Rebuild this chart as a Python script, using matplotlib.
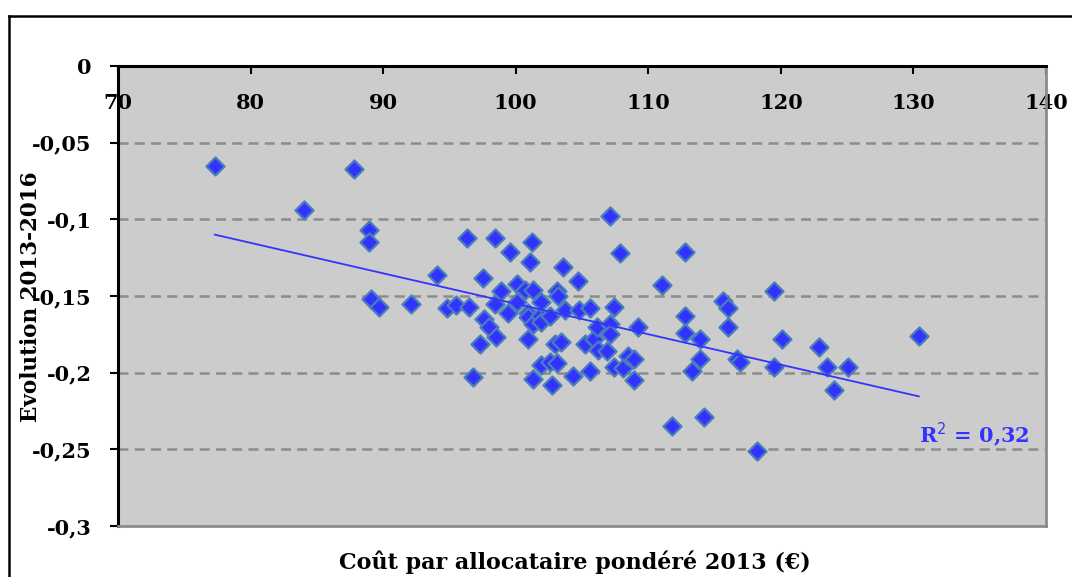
import numpy as np
import matplotlib
matplotlib.use('Agg')
import matplotlib.pyplot as plt
from matplotlib.lines import Line2D

# cost per beneficiary 2013 (EUR) and evolution 2013-2016
cost_2013 = [
    77.3, 84.0, 87.8, 88.9, 88.9, 89.1, 89.7, 92.1, 94.1, 94.8,
    95.5, 96.3, 96.5, 96.8, 97.3, 97.5, 97.6, 98.0, 98.4, 98.4,
    98.5, 98.9, 99.4, 99.6, 100.1, 100.1, 100.7, 100.9, 100.9, 100.9,
    101.1, 101.2, 101.3, 101.3, 101.3, 101.8, 101.9, 101.9, 101.9, 102.6,
    102.6, 102.7, 103.1, 103.1, 103.0, 103.2, 103.4, 103.6, 103.7, 104.3,
    104.7, 104.8, 105.2, 105.6, 105.6, 105.9, 106.1, 106.2, 106.9, 107.1,
    107.1, 107.1, 107.4, 107.4, 107.9, 108.1, 108.5, 108.9, 108.9, 109.2,
    111.0, 111.8, 112.8, 112.8, 112.8, 113.3, 113.9, 113.9, 114.2, 115.6,
    116.0, 116.0, 116.7, 116.9, 118.2, 119.5, 119.5, 120.1, 122.9, 123.5,
    124.0, 125.1, 130.4,
]
evolution = [
    -0.065, -0.094, -0.067, -0.107, -0.115, -0.152, -0.157, -0.155, -0.136, -0.158,
    -0.156, -0.112, -0.157, -0.203, -0.181, -0.138, -0.165, -0.170, -0.112, -0.155,
    -0.177, -0.147, -0.161, -0.121, -0.142, -0.154, -0.146, -0.161, -0.164, -0.178,
    -0.128, -0.115, -0.146, -0.168, -0.204, -0.163, -0.154, -0.167, -0.195, -0.163,
    -0.193, -0.208, -0.147, -0.194, -0.181, -0.150, -0.180, -0.131, -0.159, -0.202,
    -0.140, -0.159, -0.181, -0.158, -0.199, -0.178, -0.170, -0.185, -0.186, -0.098,
    -0.168, -0.175, -0.157, -0.196, -0.122, -0.197, -0.189, -0.191, -0.205, -0.170,
    -0.143, -0.235, -0.121, -0.163, -0.174, -0.199, -0.178, -0.191, -0.229, -0.153,
    -0.158, -0.170, -0.191, -0.193, -0.251, -0.147, -0.196, -0.178, -0.183, -0.196,
    -0.211, -0.196, -0.176,
]

x_ticks = [70, 80, 90, 100, 110, 120, 130, 140]
y_ticks = [0, -0.05, -0.1, -0.15, -0.2, -0.25, -0.3]
y_tick_labels = ['0', '-0,05', '-0,1', '-0,15', '-0,2', '-0,25', '-0,3']
r2_label = 'R$^2$ = 0,32'

FONT = 'DejaVu Serif'
BLUE = '#3333FF'

W, H = 1072, 577
fig = plt.figure(figsize=(W / 100, H / 100), dpi=100)
ax = fig.add_axes([118 / W, 1 - 526 / H, (1046 - 118) / W, (526 - 66) / H])
ax.set_facecolor('#CCCCCC')

# outer chart frame (cropped on right and bottom)
fig.add_artist(Line2D([9 / W, 1.0], [1 - 16 / H, 1 - 16 / H], color='black', lw=1.8, transform=fig.transFigure))
fig.add_artist(Line2D([9 / W, 9 / W], [0.0, 1 - 16 / H], color='black', lw=1.8, transform=fig.transFigure))

ax.set_xlim(70, 140)
ax.set_ylim(-0.3, 0)

for yv in y_ticks[1:-1]:
    ax.axhline(yv, color='#8C8C8C', lw=1.8, ls=(0, (4, 2.5)), zorder=1)

ax.scatter(cost_2013, evolution, marker='D', s=85, facecolor=BLUE,
           edgecolor='#4A7EBB', linewidth=1.6, zorder=3)

# linear trend line
xs = np.array(cost_2013)
coef = np.polyfit(xs, np.array(evolution), 1)
xl = np.array([xs.min(), xs.max()])
ax.plot(xl, np.polyval(coef, xl), color=BLUE, lw=1.3, zorder=4)
ax.text(134.6, -0.2405, r2_label, color=BLUE, fontsize=15, fontweight='bold',
        family=FONT, ha='center', va='center', zorder=5)

ax.spines['top'].set_color('black')
ax.spines['top'].set_linewidth(2.2)
ax.spines['left'].set_color('black')
ax.spines['left'].set_linewidth(2.2)
ax.spines['right'].set_color('#8C8C8C')
ax.spines['right'].set_linewidth(2)
ax.spines['bottom'].set_color('#8C8C8C')
ax.spines['bottom'].set_linewidth(2)

ax.set_xticks(x_ticks)
ax.set_xticklabels([str(v) for v in x_ticks])
ax.xaxis.set_ticks_position('top')
ax.tick_params(axis='x', direction='in', length=6, width=1.5, pad=-34,
               labeltop=True, labelbottom=False)
ax.set_yticks(y_ticks)
ax.set_yticklabels(y_tick_labels)
ax.tick_params(axis='y', direction='out', length=6, width=1.5, pad=13)
for lab in ax.get_xticklabels() + ax.get_yticklabels():
    lab.set_family(FONT)
    lab.set_fontweight('bold')
    lab.set_fontsize(15)

fig.text(31 / W, 1 - 297 / H, 'Evolution 2013-2016', rotation=90, ha='center', va='center',
         family=FONT, fontweight='bold', fontsize=15.5)
fig.text(575 / W, 1 - 562 / H, 'Coût par allocataire pondéré 2013 (€)', ha='center', va='center',
         family=FONT, fontweight='bold', fontsize=16)

fig.savefig('out.png', dpi=100)
